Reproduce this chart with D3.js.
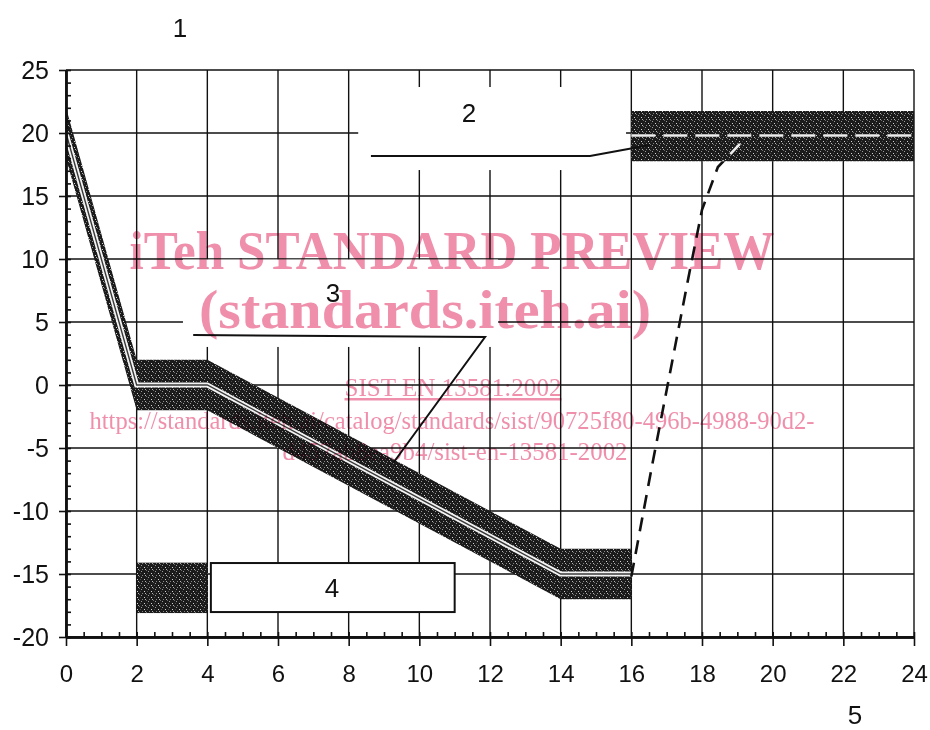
<!DOCTYPE html>
<html>
<head>
<meta charset="utf-8">
<script src="https://cdn.jsdelivr.net/npm/d3@7"></script>
<style>
  html, body { margin: 0; padding: 0; background: #fff; }
  svg { display: block; }
  .num { font-family: "Liberation Sans", Arial, sans-serif; fill: #111; }
  .mark { font-family: "Liberation Serif", "Times New Roman", serif; fill: #ef8fab; mix-blend-mode: multiply; }
</style>
</head>
<body>
<svg id="chart" width="930" height="730"></svg>
<script>
// Axis ticks
const xTicks = [0, 2, 4, 6, 8, 10, 12, 14, 16, 18, 20, 22, 24];
const yTicks = [-20, -15, -10, -5, 0, 5, 10, 15, 20, 25];

// Temperature programme: set-point line and its tolerance band
const profileX = [0, 2, 4, 14, 16];
const profileY = [20, 0, 0, -15, -15];
const bandUpper = [22, 2, 2, -13, -13];
const bandLower = [18, -2, -2, -17, -17];

// Final holding band
const holdX = [16, 24];
const holdUpper = [21.75, 21.75];
const holdLower = [17.75, 17.75];
const holdMid = [19.8, 19.8];

// Dashed transition from the low hold to the final band
const rampX = [16, 16.6, 17.6, 18.0, 18.45, 19.2];
const rampY = [-15.2, -6.2, 8.3, 13.9, 17.3, 19.5];

// Callout geometry in axis units
const leader2 = [[8.63, 18.17], [14.83, 18.17], [16.53, 19.05]];
const leader3 = [[3.6, 3.97], [11.86, 3.81], [9.26, -6.19]];
const clear2 = { x0: 8.27, x1: 15.85, y0: 17.06, y1: 23.65 };
const clear3 = { x0: 3.31, x1: 12.23, y0: 3.02, y1: 9.96 };
const legendSwatch = { x0: 2.0, x1: 4.0, y0: -18.1, y1: -14.1 };
const legendBox = { x0: 4.1, x1: 11.0, y0: -18.02, y1: -14.13 };

const svg = d3.select("#chart");
const x = d3.scaleLinear().domain([0, 24]).range([66, 914]);
const y = d3.scaleLinear().domain([-20, 25]).range([637, 70]);

// Grainy dark fill for the bands
const defs = svg.append("defs");
const pat = defs.append("pattern").attr("id", "grain")
  .attr("patternUnits", "userSpaceOnUse").attr("width", 7).attr("height", 6);
pat.append("rect").attr("width", 7).attr("height", 6).attr("fill", "#1b1b1b");
[[1, 1, "#9c9c9c"], [4, 3, "#d2d2d2"], [6, 0, "#6c6c6c"], [2, 5, "#858585"], [5, 5, "#b4b4b4"], [0, 3, "#4a4a4a"]]
  .forEach(([px, py, c]) => pat.append("rect").attr("x", px).attr("y", py).attr("width", 1).attr("height", 1).attr("fill", c));

defs.append("clipPath").attr("id", "holdClip").append("rect")
  .attr("x", x(holdX[0])).attr("y", y(holdUpper[0]))
  .attr("width", x(holdX[1]) - x(holdX[0])).attr("height", y(holdLower[0]) - y(holdUpper[0]));

// Grid
const grid = svg.append("g").attr("stroke", "#111").attr("stroke-width", 1.4);
grid.selectAll("line.v").data(xTicks).join("line")
  .attr("x1", d => x(d)).attr("x2", d => x(d))
  .attr("y1", y(25)).attr("y2", y(-20));
grid.selectAll("line.h").data(yTicks).join("line")
  .attr("x1", x(0)).attr("x2", x(24))
  .attr("y1", d => y(d)).attr("y2", d => y(d));

// Clear areas behind callout texts
[clear2, clear3].forEach(b => svg.append("rect")
  .attr("x", x(b.x0)).attr("y", y(b.y1))
  .attr("width", x(b.x1) - x(b.x0)).attr("height", y(b.y0) - y(b.y1))
  .attr("fill", "#fff"));

// Tolerance band around the programme
const bandArea = d3.area().x((d, i) => x(profileX[i])).y0((d, i) => y(bandLower[i])).y1((d, i) => y(bandUpper[i]));
svg.append("path").datum(profileX).attr("d", bandArea).attr("fill", "url(#grain)");

const setLine = d3.line().x((d, i) => x(profileX[i])).y((d, i) => y(profileY[i]));
svg.append("path").datum(profileX).attr("d", setLine)
  .attr("fill", "none").attr("stroke", "#f4f4f4").attr("stroke-width", 5);
svg.append("path").datum(profileX).attr("d", setLine)
  .attr("fill", "none").attr("stroke", "#3a3a3a").attr("stroke-width", 1.4);

// Final holding band
const holdArea = d3.area().x((d, i) => x(holdX[i])).y0((d, i) => y(holdLower[i])).y1((d, i) => y(holdUpper[i]));
svg.append("path").datum(holdX).attr("d", holdArea).attr("fill", "url(#grain)");
const holdLine = d3.line().x((d, i) => x(holdX[i])).y((d, i) => y(holdMid[i]));
svg.append("path").datum(holdX).attr("d", holdLine)
  .attr("fill", "none").attr("stroke", "#eee").attr("stroke-width", 2.6)
  .attr("stroke-dasharray", "24 8");

// Dashed transition
const rampLine = d3.line().x((d, i) => x(rampX[i])).y((d, i) => y(rampY[i]));
svg.append("path").datum(rampX).attr("d", rampLine)
  .attr("fill", "none").attr("stroke", "#111").attr("stroke-width", 2.6)
  .attr("stroke-dasharray", "14 9");
svg.append("path").datum(rampX).attr("d", rampLine).attr("clip-path", "url(#holdClip)")
  .attr("fill", "none").attr("stroke", "#eee").attr("stroke-width", 2.6)
  .attr("stroke-dasharray", "14 9");

// Callout leaders
const pts = d3.line().x(d => x(d[0])).y(d => y(d[1]));
[leader2, leader3].forEach(l => svg.append("path").attr("d", pts(l))
  .attr("fill", "none").attr("stroke", "#111").attr("stroke-width", 2));

// Axes (plain hyphen for negative numbers)
const plain = d => String(d);
const xAxisG = svg.append("g").attr("transform", `translate(0,${y(-20)})`);
xAxisG.call(d3.axisBottom(x).tickValues(xTicks).tickSize(9).tickSizeOuter(0).tickPadding(19).tickFormat(plain));
const xMinor = svg.append("g").attr("transform", `translate(0,${y(-20)})`);
xMinor.call(d3.axisBottom(x).tickValues(d3.range(0, 24.01, 0.5)).tickSize(-5).tickSizeOuter(0).tickFormat(""));

const yAxisG = svg.append("g").attr("transform", `translate(${x(0)},0)`);
yAxisG.call(d3.axisLeft(y).tickValues(yTicks).tickSize(7).tickSizeOuter(0).tickPadding(10).tickFormat(plain));
const yMinor = svg.append("g").attr("transform", `translate(${x(0)},0)`);
yMinor.call(d3.axisLeft(y).tickValues(d3.range(-20, 25.01, 1)).tickSize(-5).tickSizeOuter(0).tickFormat(""));

[xAxisG, yAxisG, xMinor, yMinor].forEach(g => {
  g.selectAll(".domain").attr("stroke", "#111").attr("stroke-width", 2.4);
  g.selectAll(".tick line").attr("stroke", "#111").attr("stroke-width", 1.6);
});
xAxisG.selectAll("text").attr("class", "num").style("font-size", "24px").attr("fill", "#111");
yAxisG.selectAll("text").attr("class", "num").style("font-size", "25px").attr("fill", "#111");

// Legend
svg.append("rect")
  .attr("x", x(legendSwatch.x0)).attr("y", y(legendSwatch.y1))
  .attr("width", x(legendSwatch.x1) - x(legendSwatch.x0)).attr("height", y(legendSwatch.y0) - y(legendSwatch.y1))
  .attr("fill", "url(#grain)");
svg.append("rect")
  .attr("x", x(legendBox.x0)).attr("y", y(legendBox.y1))
  .attr("width", x(legendBox.x1) - x(legendBox.x0)).attr("height", y(legendBox.y0) - y(legendBox.y1))
  .attr("fill", "#fff").attr("stroke", "#111").attr("stroke-width", 2);

// Reference numbers
const refs = [["1", 180, 37], ["2", 469, 122], ["3", 333, 302], ["4", 332, 597], ["5", 855, 724]];
svg.selectAll("text.ref").data(refs).join("text")
  .attr("class", "num ref").attr("x", d => d[1]).attr("y", d => d[2])
  .attr("text-anchor", "middle").style("font-size", "26px").text(d => d[0]);

// Publisher imprint
const imprint = [
  { t: "iTeh STANDARD PREVIEW", cx: 452, by: 269, size: 54, w: 645, bold: true },
  { t: "(standards.iteh.ai)", cx: 425, by: 328, size: 54, w: 452, bold: true },
  { t: "SIST EN 13581:2002", cx: 453, by: 396, size: 25, w: 217, bold: false, u: true },
  { t: "https://standards.iteh.ai/catalog/standards/sist/90725f80-496b-4988-90d2-", cx: 452, by: 429, size: 25, w: 725, bold: false },
  { t: "d457ab8ea9b4/sist-en-13581-2002", cx: 455, by: 460, size: 25, w: 345, bold: false }
];
const mk = svg.append("g");
imprint.forEach(m => {
  mk.append("text").attr("class", "mark")
    .attr("x", m.cx).attr("y", m.by).attr("text-anchor", "middle")
    .attr("textLength", m.w).attr("lengthAdjust", "spacingAndGlyphs")
    .style("font-size", m.size + "px").style("font-weight", m.bold ? "bold" : "normal")
    .style("text-decoration", m.u ? "underline" : "none")
    .text(m.t);
});
</script>
</body>
</html>
